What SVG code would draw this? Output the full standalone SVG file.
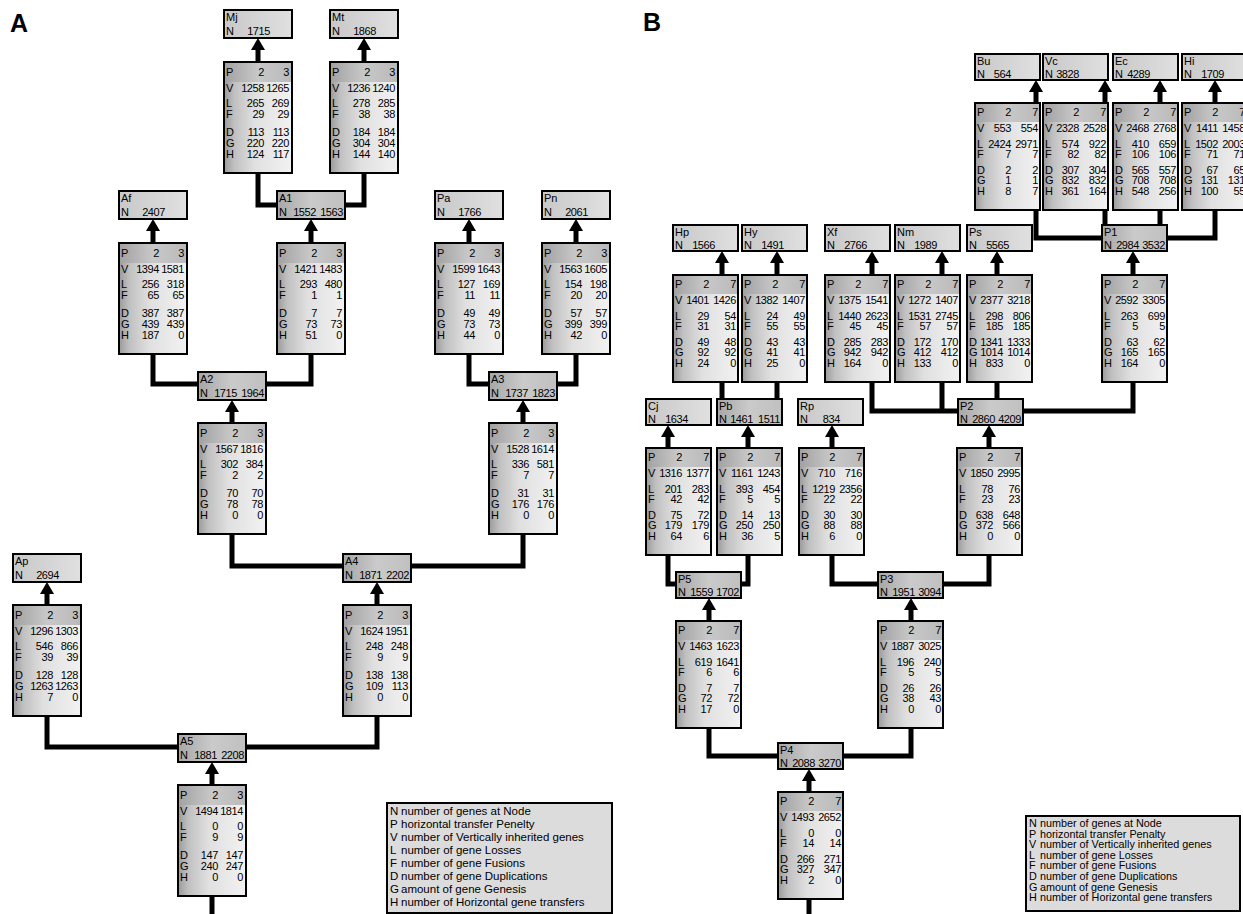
<svg xmlns="http://www.w3.org/2000/svg" xmlns:xlink="http://www.w3.org/1999/xlink" width="1243" height="914" viewBox="0 0 1243 914">
<style>
text{font-family:"Liberation Sans",Arial,Helvetica,sans-serif;font-size:11px;fill:#000}
.n{text-anchor:end;letter-spacing:-0.4px}
.sb{fill:url(#gs)}
.bn{fill:url(#gb)}
.lf{fill:url(#gl)}
.in{fill:url(#gi)}
.lg{fill:#dcdcdc}
.bd{fill:none;stroke:#000;stroke-width:2}
.cn{fill:none;stroke:#000;stroke-width:5;stroke-linejoin:miter}
.ar{stroke:#000;stroke-width:5;marker-end:url(#ah)}
.big{font-size:25px;font-weight:bold}
.la{font-size:11.5px}
.lt{font-size:10.8px}
</style>
<defs>
<linearGradient id="gs" x1="0" y1="0" x2="1" y2="0">
<stop offset="0" stop-color="#9a9a9a"/><stop offset="0.15" stop-color="#c0c0c0"/><stop offset="0.45" stop-color="#e0e0e0"/><stop offset="1" stop-color="#f2f2f2"/>
</linearGradient>
<linearGradient id="gb" x1="0" y1="0" x2="1" y2="0">
<stop offset="0" stop-color="#a2a2a2"/><stop offset="0.5" stop-color="#c8c8c8"/><stop offset="1" stop-color="#bababa"/>
</linearGradient>
<linearGradient id="gl" x1="0" y1="0" x2="1" y2="0">
<stop offset="0" stop-color="#c8c8c8"/><stop offset="1" stop-color="#e0e0e0"/>
</linearGradient>
<linearGradient id="gi" x1="0" y1="0" x2="1" y2="0">
<stop offset="0" stop-color="#a6a6a6"/><stop offset="0.5" stop-color="#cacaca"/><stop offset="1" stop-color="#c0c0c0"/>
</linearGradient>
<marker id="ah" markerUnits="userSpaceOnUse" markerWidth="12" markerHeight="14" refX="6" refY="7" orient="auto"><path d="M0,0L12,7L0,14z" fill="#000"/></marker>
<g id="sA"><rect class="sb" width="68" height="111"/><rect class="bn" x="1" y="1" width="66" height="19"/><rect class="bd" width="68" height="111"/>
<text><tspan x="2" y="14">P</tspan><tspan x="2" y="30">V</tspan><tspan x="2" y="45">L</tspan><tspan x="2" y="56">F</tspan><tspan x="2" y="74">D</tspan><tspan x="2" y="85">G</tspan><tspan x="2" y="96">H</tspan></text></g>
<g id="sB"><rect class="sb" width="65" height="107"/><rect class="bn" x="1" y="1" width="63" height="18"/><rect class="bd" width="65" height="107"/>
<text><tspan x="2" y="13">P</tspan><tspan x="2" y="29">V</tspan><tspan x="2" y="45">L</tspan><tspan x="2" y="55">F</tspan><tspan x="2" y="71">D</tspan><tspan x="2" y="81">G</tspan><tspan x="2" y="92">H</tspan></text></g>
<g id="lA"><rect class="lf" width="68" height="28"/><rect class="bd" width="68" height="28"/><text x="2" y="25">N</text></g>
<g id="iA"><rect class="in" width="68" height="28"/><rect class="bd" width="68" height="28"/><text x="2" y="25">N</text></g>
<g id="lB"><rect class="lf" width="65" height="26"/><rect class="bd" width="65" height="26"/><text x="2" y="24">N</text></g>
<g id="iB"><rect class="in" width="65" height="26"/><rect class="bd" width="65" height="26"/><text x="2" y="24">N</text></g>
</defs>
<rect width="1243" height="914" fill="#fff"/>
<text class="big" x="10" y="32">A</text>
<text class="big" x="643" y="31">B</text>

<g id="connectors">
<path class="cn" d="M258,172V205H277M364,172V205H345M153,354V384H198M311,354V384H266M469,354V384H489M576,354V384H557M232,534V566H343M523,534V566H411M47,716V747H178M377,716V747H246M212,896V914"/>
<path class="cn" d="M1036,209V238H1102M1105,209V226M1160,209V226M1215,209V238H1167M722,381V400M777,381V400M872,381V411H958M942,381V411M997,381V400M1133,381V411H1023M668,554V584H676M748,554V584H741M832,554V584H878M989,554V584H943M709,727V756H778M911,727V756H843M809,898V914"/>
<line class="ar" x1="258" y1="63" x2="258" y2="44"/>
<line class="ar" x1="364" y1="63" x2="364" y2="44"/>
<line class="ar" x1="153" y1="244" x2="153" y2="225"/>
<line class="ar" x1="311" y1="244" x2="311" y2="225"/>
<line class="ar" x1="469" y1="244" x2="469" y2="225"/>
<line class="ar" x1="576" y1="244" x2="576" y2="225"/>
<line class="ar" x1="232" y1="424" x2="232" y2="406"/>
<line class="ar" x1="523" y1="424" x2="523" y2="406"/>
<line class="ar" x1="47" y1="606" x2="47" y2="588"/>
<line class="ar" x1="377" y1="606" x2="377" y2="588"/>
<line class="ar" x1="212" y1="786" x2="212" y2="768"/>
<line class="ar" x1="1036" y1="104" x2="1036" y2="86"/>
<line class="ar" x1="1105" y1="104" x2="1105" y2="86"/>
<line class="ar" x1="1160" y1="104" x2="1160" y2="86"/>
<line class="ar" x1="1215" y1="104" x2="1215" y2="86"/>
<line class="ar" x1="722" y1="276" x2="722" y2="257"/>
<line class="ar" x1="777" y1="276" x2="777" y2="257"/>
<line class="ar" x1="872" y1="276" x2="872" y2="257"/>
<line class="ar" x1="942" y1="276" x2="942" y2="257"/>
<line class="ar" x1="997" y1="276" x2="997" y2="257"/>
<line class="ar" x1="1133" y1="276" x2="1133" y2="257"/>
<line class="ar" x1="668" y1="449" x2="668" y2="431"/>
<line class="ar" x1="748" y1="449" x2="748" y2="431"/>
<line class="ar" x1="832" y1="449" x2="832" y2="431"/>
<line class="ar" x1="989" y1="449" x2="989" y2="431"/>
<line class="ar" x1="709" y1="622" x2="709" y2="604"/>
<line class="ar" x1="911" y1="622" x2="911" y2="604"/>
<line class="ar" x1="809" y1="793" x2="809" y2="775"/>
</g>

<!-- Panel A labels -->
<g id="Mj" transform="translate(224,10)"><use href="#lA"/><text x="2" y="11">Mj</text><text class="n" x="46" y="25">1715</text></g>
<g id="Mt" transform="translate(330,10)"><use href="#lA"/><text x="2" y="11">Mt</text><text class="n" x="46" y="25">1868</text></g>
<g id="Af" transform="translate(119,191)"><use href="#lA"/><text x="2" y="11">Af</text><text class="n" x="46" y="25">2407</text></g>
<g id="Pa" transform="translate(435,191)"><use href="#lA"/><text x="2" y="11">Pa</text><text class="n" x="46" y="25">1766</text></g>
<g id="Pn" transform="translate(542,191)"><use href="#lA"/><text x="2" y="11">Pn</text><text class="n" x="46" y="25">2061</text></g>
<g id="Ap" transform="translate(13,554)"><use href="#lA"/><text x="2" y="11">Ap</text><text class="n" x="46" y="25">2694</text></g>
<g id="A1" transform="translate(277,191)"><use href="#iA"/><text x="2" y="11">A1</text><text class="n" y="25"><tspan x="39">1552</tspan><tspan x="66">1563</tspan></text></g>
<g id="A2" transform="translate(198,372)"><use href="#iA"/><text x="2" y="11">A2</text><text class="n" y="25"><tspan x="39">1715</tspan><tspan x="66">1964</tspan></text></g>
<g id="A3" transform="translate(489,372)"><use href="#iA"/><text x="2" y="11">A3</text><text class="n" y="25"><tspan x="39">1737</tspan><tspan x="66">1823</tspan></text></g>
<g id="A4" transform="translate(343,554)"><use href="#iA"/><text x="2" y="11">A4</text><text class="n" y="25"><tspan x="39">1871</tspan><tspan x="66">2202</tspan></text></g>
<g id="A5" transform="translate(178,734)"><use href="#iA"/><text x="2" y="11">A5</text><text class="n" y="25"><tspan x="39">1881</tspan><tspan x="66">2208</tspan></text></g>

<!-- Panel A stats -->
<g id="s-Mj" transform="translate(224,62)"><use href="#sA"/><text class="n"><tspan x="40" y="14">2</tspan><tspan x="40" y="30">1258</tspan><tspan x="40" y="45">265</tspan><tspan x="40" y="56">29</tspan><tspan x="40" y="74">113</tspan><tspan x="40" y="85">220</tspan><tspan x="40" y="96">124</tspan><tspan x="65" y="14">3</tspan><tspan x="65" y="30">1265</tspan><tspan x="65" y="45">269</tspan><tspan x="65" y="56">29</tspan><tspan x="65" y="74">113</tspan><tspan x="65" y="85">220</tspan><tspan x="65" y="96">117</tspan></text></g>
<g id="s-Mt" transform="translate(330,62)"><use href="#sA"/><text class="n"><tspan x="40" y="14">2</tspan><tspan x="40" y="30">1236</tspan><tspan x="40" y="45">278</tspan><tspan x="40" y="56">38</tspan><tspan x="40" y="74">184</tspan><tspan x="40" y="85">304</tspan><tspan x="40" y="96">144</tspan><tspan x="65" y="14">3</tspan><tspan x="65" y="30">1240</tspan><tspan x="65" y="45">285</tspan><tspan x="65" y="56">38</tspan><tspan x="65" y="74">184</tspan><tspan x="65" y="85">304</tspan><tspan x="65" y="96">140</tspan></text></g>
<g id="s-Af" transform="translate(119,243)"><use href="#sA"/><text class="n"><tspan x="40" y="14">2</tspan><tspan x="40" y="30">1394</tspan><tspan x="40" y="45">256</tspan><tspan x="40" y="56">65</tspan><tspan x="40" y="74">387</tspan><tspan x="40" y="85">439</tspan><tspan x="40" y="96">187</tspan><tspan x="65" y="14">3</tspan><tspan x="65" y="30">1581</tspan><tspan x="65" y="45">318</tspan><tspan x="65" y="56">65</tspan><tspan x="65" y="74">387</tspan><tspan x="65" y="85">439</tspan><tspan x="65" y="96">0</tspan></text></g>
<g id="s-A1" transform="translate(277,243)"><use href="#sA"/><text class="n"><tspan x="40" y="14">2</tspan><tspan x="40" y="30">1421</tspan><tspan x="40" y="45">293</tspan><tspan x="40" y="56">1</tspan><tspan x="40" y="74">7</tspan><tspan x="40" y="85">73</tspan><tspan x="40" y="96">51</tspan><tspan x="65" y="14">3</tspan><tspan x="65" y="30">1483</tspan><tspan x="65" y="45">480</tspan><tspan x="65" y="56">1</tspan><tspan x="65" y="74">7</tspan><tspan x="65" y="85">73</tspan><tspan x="65" y="96">0</tspan></text></g>
<g id="s-Pa" transform="translate(435,243)"><use href="#sA"/><text class="n"><tspan x="40" y="14">2</tspan><tspan x="40" y="30">1599</tspan><tspan x="40" y="45">127</tspan><tspan x="40" y="56">11</tspan><tspan x="40" y="74">49</tspan><tspan x="40" y="85">73</tspan><tspan x="40" y="96">44</tspan><tspan x="65" y="14">3</tspan><tspan x="65" y="30">1643</tspan><tspan x="65" y="45">169</tspan><tspan x="65" y="56">11</tspan><tspan x="65" y="74">49</tspan><tspan x="65" y="85">73</tspan><tspan x="65" y="96">0</tspan></text></g>
<g id="s-Pn" transform="translate(542,243)"><use href="#sA"/><text class="n"><tspan x="40" y="14">2</tspan><tspan x="40" y="30">1563</tspan><tspan x="40" y="45">154</tspan><tspan x="40" y="56">20</tspan><tspan x="40" y="74">57</tspan><tspan x="40" y="85">399</tspan><tspan x="40" y="96">42</tspan><tspan x="65" y="14">3</tspan><tspan x="65" y="30">1605</tspan><tspan x="65" y="45">198</tspan><tspan x="65" y="56">20</tspan><tspan x="65" y="74">57</tspan><tspan x="65" y="85">399</tspan><tspan x="65" y="96">0</tspan></text></g>
<g id="s-A2" transform="translate(198,423)"><use href="#sA"/><text class="n"><tspan x="40" y="14">2</tspan><tspan x="40" y="30">1567</tspan><tspan x="40" y="45">302</tspan><tspan x="40" y="56">2</tspan><tspan x="40" y="74">70</tspan><tspan x="40" y="85">78</tspan><tspan x="40" y="96">0</tspan><tspan x="65" y="14">3</tspan><tspan x="65" y="30">1816</tspan><tspan x="65" y="45">384</tspan><tspan x="65" y="56">2</tspan><tspan x="65" y="74">70</tspan><tspan x="65" y="85">78</tspan><tspan x="65" y="96">0</tspan></text></g>
<g id="s-A3" transform="translate(489,423)"><use href="#sA"/><text class="n"><tspan x="40" y="14">2</tspan><tspan x="40" y="30">1528</tspan><tspan x="40" y="45">336</tspan><tspan x="40" y="56">7</tspan><tspan x="40" y="74">31</tspan><tspan x="40" y="85">176</tspan><tspan x="40" y="96">0</tspan><tspan x="65" y="14">3</tspan><tspan x="65" y="30">1614</tspan><tspan x="65" y="45">581</tspan><tspan x="65" y="56">7</tspan><tspan x="65" y="74">31</tspan><tspan x="65" y="85">176</tspan><tspan x="65" y="96">0</tspan></text></g>
<g id="s-Ap" transform="translate(13,605)"><use href="#sA"/><text class="n"><tspan x="40" y="14">2</tspan><tspan x="40" y="30">1296</tspan><tspan x="40" y="45">546</tspan><tspan x="40" y="56">39</tspan><tspan x="40" y="74">128</tspan><tspan x="40" y="85">1263</tspan><tspan x="40" y="96">7</tspan><tspan x="65" y="14">3</tspan><tspan x="65" y="30">1303</tspan><tspan x="65" y="45">866</tspan><tspan x="65" y="56">39</tspan><tspan x="65" y="74">128</tspan><tspan x="65" y="85">1263</tspan><tspan x="65" y="96">0</tspan></text></g>
<g id="s-A4" transform="translate(343,605)"><use href="#sA"/><text class="n"><tspan x="40" y="14">2</tspan><tspan x="40" y="30">1624</tspan><tspan x="40" y="45">248</tspan><tspan x="40" y="56">9</tspan><tspan x="40" y="74">138</tspan><tspan x="40" y="85">109</tspan><tspan x="40" y="96">0</tspan><tspan x="65" y="14">3</tspan><tspan x="65" y="30">1951</tspan><tspan x="65" y="45">248</tspan><tspan x="65" y="56">9</tspan><tspan x="65" y="74">138</tspan><tspan x="65" y="85">113</tspan><tspan x="65" y="96">0</tspan></text></g>
<g id="s-A5" transform="translate(178,785)"><use href="#sA"/><text class="n"><tspan x="40" y="14">2</tspan><tspan x="40" y="30">1494</tspan><tspan x="40" y="45">0</tspan><tspan x="40" y="56">9</tspan><tspan x="40" y="74">147</tspan><tspan x="40" y="85">240</tspan><tspan x="40" y="96">0</tspan><tspan x="65" y="14">3</tspan><tspan x="65" y="30">1814</tspan><tspan x="65" y="45">0</tspan><tspan x="65" y="56">9</tspan><tspan x="65" y="74">147</tspan><tspan x="65" y="85">247</tspan><tspan x="65" y="96">0</tspan></text></g>

<g id="legend-A" transform="translate(387,803)"><rect class="lg" width="225" height="110"/><rect class="bd" width="225" height="110"/>
<text class="la"><tspan x="3" y="12">N</tspan><tspan x="3" y="25">P</tspan><tspan x="3" y="38">V</tspan><tspan x="3" y="51">L</tspan><tspan x="3" y="64">F</tspan><tspan x="3" y="77">D</tspan><tspan x="3" y="90">G</tspan><tspan x="3" y="103">H</tspan></text>
<text class="la"><tspan x="14" y="12">number of genes at Node</tspan><tspan x="14" y="25">horizontal transfer Penelty</tspan><tspan x="14" y="38">number of Vertically inherited genes</tspan><tspan x="14" y="51">number of gene Losses</tspan><tspan x="14" y="64">number of gene Fusions</tspan><tspan x="14" y="77">number of gene Duplications</tspan><tspan x="14" y="90">amount of gene Genesis</tspan><tspan x="14" y="103">number of Horizontal gene transfers</tspan></text></g>

<!-- Panel B labels -->
<g id="Bu" transform="translate(975,54)"><use href="#lB"/><text x="2" y="11">Bu</text><text class="n" x="36" y="24">564</text></g>
<g id="Vc" transform="translate(1043,54)"><use href="#lB"/><text x="2" y="11">Vc</text><text class="n" x="36" y="24">3828</text></g>
<g id="Ec" transform="translate(1113,54)"><use href="#lB"/><text x="2" y="11">Ec</text><text class="n" x="37" y="24">4289</text></g>
<g id="Hi" transform="translate(1182,54)"><use href="#lB"/><text x="2" y="11">Hi</text><text class="n" x="42" y="24">1709</text></g>
<g id="Hp" transform="translate(673,225)"><use href="#lB"/><text x="2" y="11">Hp</text><text class="n" x="42" y="24">1566</text></g>
<g id="Hy" transform="translate(742,225)"><use href="#lB"/><text x="2" y="11">Hy</text><text class="n" x="42" y="24">1491</text></g>
<g id="Xf" transform="translate(825,225)"><use href="#lB"/><text x="2" y="11">Xf</text><text class="n" x="42" y="24">2766</text></g>
<g id="Nm" transform="translate(895,225)"><use href="#lB"/><text x="2" y="11">Nm</text><text class="n" x="42" y="24">1989</text></g>
<g id="Ps" transform="translate(967,225)"><use href="#lB"/><text x="2" y="11">Ps</text><text class="n" x="42" y="24">5565</text></g>
<g id="P1" transform="translate(1102,225)"><use href="#iB"/><text x="2" y="11">P1</text><text class="n" y="24"><tspan x="37">2984</tspan><tspan x="63">3532</tspan></text></g>
<g id="Cj" transform="translate(646,399)"><use href="#lB"/><text x="2" y="11">Cj</text><text class="n" x="42" y="24">1634</text></g>
<g id="Pb" transform="translate(717,399)"><use href="#iB"/><text x="2" y="11">Pb</text><text class="n" y="24"><tspan x="36">1461</tspan><tspan x="63">1511</tspan></text></g>
<g id="Rp" transform="translate(798,399)"><use href="#lB"/><text x="2" y="11">Rp</text><text class="n" x="42" y="24">834</text></g>
<g id="P2" transform="translate(958,399)"><use href="#iB"/><text x="2" y="11">P2</text><text class="n" y="24"><tspan x="37">2860</tspan><tspan x="63">4209</tspan></text></g>
<g id="P5" transform="translate(676,572)"><use href="#iB"/><text x="2" y="11">P5</text><text class="n" y="24"><tspan x="37">1559</tspan><tspan x="63">1702</tspan></text></g>
<g id="P3" transform="translate(878,572)"><use href="#iB"/><text x="2" y="11">P3</text><text class="n" y="24"><tspan x="37">1951</tspan><tspan x="63">3094</tspan></text></g>
<g id="P4" transform="translate(778,743)"><use href="#iB"/><text x="2" y="11">P4</text><text class="n" y="24"><tspan x="37">2088</tspan><tspan x="63">3270</tspan></text></g>

<!-- Panel B stats -->
<g id="s-Bu" transform="translate(975,103)"><use href="#sB"/><text class="n"><tspan x="36" y="13">2</tspan><tspan x="36" y="29">553</tspan><tspan x="36" y="45">2424</tspan><tspan x="36" y="55">7</tspan><tspan x="36" y="71">2</tspan><tspan x="36" y="81">1</tspan><tspan x="36" y="92">8</tspan><tspan x="63" y="13">7</tspan><tspan x="63" y="29">554</tspan><tspan x="63" y="45">2971</tspan><tspan x="63" y="55">7</tspan><tspan x="63" y="71">2</tspan><tspan x="63" y="81">1</tspan><tspan x="63" y="92">7</tspan></text></g>
<g id="s-Vc" transform="translate(1043,103)"><use href="#sB"/><text class="n"><tspan x="36" y="13">2</tspan><tspan x="36" y="29">2328</tspan><tspan x="36" y="45">574</tspan><tspan x="36" y="55">82</tspan><tspan x="36" y="71">307</tspan><tspan x="36" y="81">832</tspan><tspan x="36" y="92">361</tspan><tspan x="63" y="13">7</tspan><tspan x="63" y="29">2528</tspan><tspan x="63" y="45">922</tspan><tspan x="63" y="55">82</tspan><tspan x="63" y="71">304</tspan><tspan x="63" y="81">832</tspan><tspan x="63" y="92">164</tspan></text></g>
<g id="s-Ec" transform="translate(1113,103)"><use href="#sB"/><text class="n"><tspan x="36" y="13">2</tspan><tspan x="36" y="29">2468</tspan><tspan x="36" y="45">410</tspan><tspan x="36" y="55">106</tspan><tspan x="36" y="71">565</tspan><tspan x="36" y="81">708</tspan><tspan x="36" y="92">548</tspan><tspan x="63" y="13">7</tspan><tspan x="63" y="29">2768</tspan><tspan x="63" y="45">659</tspan><tspan x="63" y="55">106</tspan><tspan x="63" y="71">557</tspan><tspan x="63" y="81">708</tspan><tspan x="63" y="92">256</tspan></text></g>
<g id="s-Hi" transform="translate(1182,103)"><use href="#sB"/><text class="n"><tspan x="36" y="13">2</tspan><tspan x="36" y="29">1411</tspan><tspan x="36" y="45">1502</tspan><tspan x="36" y="55">71</tspan><tspan x="36" y="71">67</tspan><tspan x="36" y="81">131</tspan><tspan x="36" y="92">100</tspan><tspan x="63" y="13">7</tspan><tspan x="63" y="29">1458</tspan><tspan x="63" y="45">2003</tspan><tspan x="63" y="55">71</tspan><tspan x="63" y="71">65</tspan><tspan x="63" y="81">131</tspan><tspan x="63" y="92">55</tspan></text></g>
<g id="s-Hp" transform="translate(673,275)"><use href="#sB"/><text class="n"><tspan x="36" y="13">2</tspan><tspan x="36" y="29">1401</tspan><tspan x="36" y="45">29</tspan><tspan x="36" y="55">31</tspan><tspan x="36" y="71">49</tspan><tspan x="36" y="81">92</tspan><tspan x="36" y="92">24</tspan><tspan x="63" y="13">7</tspan><tspan x="63" y="29">1426</tspan><tspan x="63" y="45">54</tspan><tspan x="63" y="55">31</tspan><tspan x="63" y="71">48</tspan><tspan x="63" y="81">92</tspan><tspan x="63" y="92">0</tspan></text></g>
<g id="s-Hy" transform="translate(742,275)"><use href="#sB"/><text class="n"><tspan x="36" y="13">2</tspan><tspan x="36" y="29">1382</tspan><tspan x="36" y="45">24</tspan><tspan x="36" y="55">55</tspan><tspan x="36" y="71">43</tspan><tspan x="36" y="81">41</tspan><tspan x="36" y="92">25</tspan><tspan x="63" y="13">7</tspan><tspan x="63" y="29">1407</tspan><tspan x="63" y="45">49</tspan><tspan x="63" y="55">55</tspan><tspan x="63" y="71">43</tspan><tspan x="63" y="81">41</tspan><tspan x="63" y="92">0</tspan></text></g>
<g id="s-Xf" transform="translate(825,275)"><use href="#sB"/><text class="n"><tspan x="36" y="13">2</tspan><tspan x="36" y="29">1375</tspan><tspan x="36" y="45">1440</tspan><tspan x="36" y="55">45</tspan><tspan x="36" y="71">285</tspan><tspan x="36" y="81">942</tspan><tspan x="36" y="92">164</tspan><tspan x="63" y="13">7</tspan><tspan x="63" y="29">1541</tspan><tspan x="63" y="45">2623</tspan><tspan x="63" y="55">45</tspan><tspan x="63" y="71">283</tspan><tspan x="63" y="81">942</tspan><tspan x="63" y="92">0</tspan></text></g>
<g id="s-Nm" transform="translate(895,275)"><use href="#sB"/><text class="n"><tspan x="36" y="13">2</tspan><tspan x="36" y="29">1272</tspan><tspan x="36" y="45">1531</tspan><tspan x="36" y="55">57</tspan><tspan x="36" y="71">172</tspan><tspan x="36" y="81">412</tspan><tspan x="36" y="92">133</tspan><tspan x="63" y="13">7</tspan><tspan x="63" y="29">1407</tspan><tspan x="63" y="45">2745</tspan><tspan x="63" y="55">57</tspan><tspan x="63" y="71">170</tspan><tspan x="63" y="81">412</tspan><tspan x="63" y="92">0</tspan></text></g>
<g id="s-Ps" transform="translate(967,275)"><use href="#sB"/><text class="n"><tspan x="36" y="13">2</tspan><tspan x="36" y="29">2377</tspan><tspan x="36" y="45">298</tspan><tspan x="36" y="55">185</tspan><tspan x="36" y="71">1341</tspan><tspan x="36" y="81">1014</tspan><tspan x="36" y="92">833</tspan><tspan x="63" y="13">7</tspan><tspan x="63" y="29">3218</tspan><tspan x="63" y="45">806</tspan><tspan x="63" y="55">185</tspan><tspan x="63" y="71">1333</tspan><tspan x="63" y="81">1014</tspan><tspan x="63" y="92">0</tspan></text></g>
<g id="s-P1" transform="translate(1102,275)"><use href="#sB"/><text class="n"><tspan x="36" y="13">2</tspan><tspan x="36" y="29">2592</tspan><tspan x="36" y="45">263</tspan><tspan x="36" y="55">5</tspan><tspan x="36" y="71">63</tspan><tspan x="36" y="81">165</tspan><tspan x="36" y="92">164</tspan><tspan x="63" y="13">7</tspan><tspan x="63" y="29">3305</tspan><tspan x="63" y="45">699</tspan><tspan x="63" y="55">5</tspan><tspan x="63" y="71">62</tspan><tspan x="63" y="81">165</tspan><tspan x="63" y="92">0</tspan></text></g>
<g id="s-Cj" transform="translate(646,448)"><use href="#sB"/><text class="n"><tspan x="36" y="13">2</tspan><tspan x="36" y="29">1316</tspan><tspan x="36" y="45">201</tspan><tspan x="36" y="55">42</tspan><tspan x="36" y="71">75</tspan><tspan x="36" y="81">179</tspan><tspan x="36" y="92">64</tspan><tspan x="63" y="13">7</tspan><tspan x="63" y="29">1377</tspan><tspan x="63" y="45">283</tspan><tspan x="63" y="55">42</tspan><tspan x="63" y="71">72</tspan><tspan x="63" y="81">179</tspan><tspan x="63" y="92">6</tspan></text></g>
<g id="s-Pb" transform="translate(717,448)"><use href="#sB"/><text class="n"><tspan x="36" y="13">2</tspan><tspan x="36" y="29">1161</tspan><tspan x="36" y="45">393</tspan><tspan x="36" y="55">5</tspan><tspan x="36" y="71">14</tspan><tspan x="36" y="81">250</tspan><tspan x="36" y="92">36</tspan><tspan x="63" y="13">7</tspan><tspan x="63" y="29">1243</tspan><tspan x="63" y="45">454</tspan><tspan x="63" y="55">5</tspan><tspan x="63" y="71">13</tspan><tspan x="63" y="81">250</tspan><tspan x="63" y="92">5</tspan></text></g>
<g id="s-Rp" transform="translate(799,448)"><use href="#sB"/><text class="n"><tspan x="36" y="13">2</tspan><tspan x="36" y="29">710</tspan><tspan x="36" y="45">1219</tspan><tspan x="36" y="55">22</tspan><tspan x="36" y="71">30</tspan><tspan x="36" y="81">88</tspan><tspan x="36" y="92">6</tspan><tspan x="63" y="13">7</tspan><tspan x="63" y="29">716</tspan><tspan x="63" y="45">2356</tspan><tspan x="63" y="55">22</tspan><tspan x="63" y="71">30</tspan><tspan x="63" y="81">88</tspan><tspan x="63" y="92">0</tspan></text></g>
<g id="s-P2" transform="translate(957,448)"><use href="#sB"/><text class="n"><tspan x="36" y="13">2</tspan><tspan x="36" y="29">1850</tspan><tspan x="36" y="45">78</tspan><tspan x="36" y="55">23</tspan><tspan x="36" y="71">638</tspan><tspan x="36" y="81">372</tspan><tspan x="36" y="92">0</tspan><tspan x="63" y="13">7</tspan><tspan x="63" y="29">2995</tspan><tspan x="63" y="45">76</tspan><tspan x="63" y="55">23</tspan><tspan x="63" y="71">648</tspan><tspan x="63" y="81">566</tspan><tspan x="63" y="92">0</tspan></text></g>
<g id="s-P5" transform="translate(676,621)"><use href="#sB"/><text class="n"><tspan x="36" y="13">2</tspan><tspan x="36" y="29">1463</tspan><tspan x="36" y="45">619</tspan><tspan x="36" y="55">6</tspan><tspan x="36" y="71">7</tspan><tspan x="36" y="81">72</tspan><tspan x="36" y="92">17</tspan><tspan x="63" y="13">7</tspan><tspan x="63" y="29">1623</tspan><tspan x="63" y="45">1641</tspan><tspan x="63" y="55">6</tspan><tspan x="63" y="71">7</tspan><tspan x="63" y="81">72</tspan><tspan x="63" y="92">0</tspan></text></g>
<g id="s-P3" transform="translate(878,621)"><use href="#sB"/><text class="n"><tspan x="36" y="13">2</tspan><tspan x="36" y="29">1887</tspan><tspan x="36" y="45">196</tspan><tspan x="36" y="55">5</tspan><tspan x="36" y="71">26</tspan><tspan x="36" y="81">38</tspan><tspan x="36" y="92">0</tspan><tspan x="63" y="13">7</tspan><tspan x="63" y="29">3025</tspan><tspan x="63" y="45">240</tspan><tspan x="63" y="55">5</tspan><tspan x="63" y="71">26</tspan><tspan x="63" y="81">43</tspan><tspan x="63" y="92">0</tspan></text></g>
<g id="s-P4" transform="translate(778,792)"><use href="#sB"/><text class="n"><tspan x="36" y="13">2</tspan><tspan x="36" y="29">1493</tspan><tspan x="36" y="45">0</tspan><tspan x="36" y="55">14</tspan><tspan x="36" y="71">266</tspan><tspan x="36" y="81">327</tspan><tspan x="36" y="92">2</tspan><tspan x="63" y="13">7</tspan><tspan x="63" y="29">2652</tspan><tspan x="63" y="45">0</tspan><tspan x="63" y="55">14</tspan><tspan x="63" y="71">271</tspan><tspan x="63" y="81">347</tspan><tspan x="63" y="92">0</tspan></text></g>

<g id="legend-B" transform="translate(1026,816)"><rect class="lg" width="214" height="95"/><rect class="bd" width="214" height="95"/>
<text class="lt"><tspan x="3" y="11">N</tspan><tspan x="3" y="21.6">P</tspan><tspan x="3" y="32.2">V</tspan><tspan x="3" y="42.8">L</tspan><tspan x="3" y="53.4">F</tspan><tspan x="3" y="64">D</tspan><tspan x="3" y="74.6">G</tspan><tspan x="3" y="85.2">H</tspan></text>
<text class="lt"><tspan x="14" y="11">number of genes at Node</tspan><tspan x="14" y="21.6">horizontal transfer Penalty</tspan><tspan x="14" y="32.2">number of Vertically inherited genes</tspan><tspan x="14" y="42.8">number of gene Losses</tspan><tspan x="14" y="53.4">number of gene Fusions</tspan><tspan x="14" y="64">number of gene Duplications</tspan><tspan x="14" y="74.6">amount of gene Genesis</tspan><tspan x="14" y="85.2">number of Horizontal gene transfers</tspan></text></g>
</svg>
